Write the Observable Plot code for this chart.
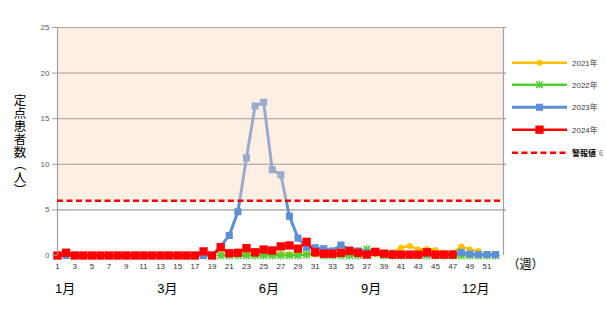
<!DOCTYPE html>
<html><head><meta charset="utf-8">
<script src="https://cdn.jsdelivr.net/npm/d3@7"></script>
<script src="https://cdn.jsdelivr.net/npm/@observablehq/plot@0.6"></script>
<style>
body{margin:0;background:#fff;}
#chart{position:relative;width:606px;height:310px;}
</style>
</head><body><div id="chart"></div>
<script>
// ---- data ----
const weeks = [1,2,3,4,5,6,7,8,9,10,11,12,13,14,15,16,17,18,19,20,21,22,23,24,25,26,27,28,29,30,31,32,33,34,35,36,37,38,39,40,41,42,43,44,45,46,47,48,49,50,51,52];
const weekTicks = [1,3,5,7,9,11,13,15,17,19,21,23,25,27,29,31,33,35,37,39,41,43,45,47,49,51];
const yTicks = [0,5,10,15,20,25];
const gridValues = [5,10,15,20,25];
const monthLabels = ["1月","3月","6月","9月","12月"];
const monthWeeks = [1.9,13.8,25.6,37.5,49.7];
const alarmLevel = 6;
const alarmLabel = "警報値";
const alarmValueLabel = "6";
const yTitle = "定点患者数（人）";
const xUnit = "（週）";

const years = ["2021年","2022年","2023年","2024年"];
const startWeeks = [20,20,1,1];
// 2021: weeks 20-50
const v2021 = [0.1,0.1,0.1,0.1,0.1,0.1,0.15,0.2,0.15,0.1,0.1,0.1,0.1,0.1,0.1,0.1,0.1,0.1,0.1,0.1,0.35,0.85,1.05,0.65,0.7,0.6,0.3,0.3,1.0,0.65,0.5];
// 2022: weeks 20-52
const v2022 = [0,0,0,0,0,0,0,0,0,0,0.1,0.3,0,0,0,0,0,0.7,0.3,0,0,0,0,0,0,0,0,0,0,0,0,0,0];
// 2023: weeks 1-52
const v2023 = [0,0,0,0,0,0,0,0,0,0,0,0,0,0,0,0,0,0,0,1.0,2.2,4.8,10.7,16.4,16.8,9.4,8.85,4.3,1.9,0.9,0.85,0.75,0.5,1.15,0.6,0.5,0.3,0.4,0.2,0.2,0.1,0.1,0.1,0.2,0.1,0.1,0.1,0.35,0.15,0.1,0.1,0.1];
// 2024: weeks 1-47
const v2024 = [0,0.3,0,0,0,0,0,0,0,0,0,0,0,0,0,0,0,0.45,0,0.9,0.25,0.3,0.8,0.35,0.65,0.55,1.0,1.1,0.75,1.5,0.35,0.2,0.2,0.3,0.5,0.3,0.1,0.4,0.2,0.1,0.1,0.1,0.1,0.35,0.1,0.1,0.1];
const seriesValues = [v2021, v2022, v2023, v2024];

// ---- styles ----
const colors = ["#ffc000","#4fce32","#5b8fd8","#ff0000"];
const symbols = ["circle","asterisk","square","square"];
const dotR = [3,3.2,4,4.7];
const lineW = [2.5,2.5,3,2.5];

const xMin = 1, xMax = 52.92;

const data = [];
seriesValues.forEach((vals, i) => {
  const s = startWeeks[i];
  vals.forEach((v, j) => data.push({year: years[i], week: weeks[s - 1 + j], value: v, idx: i}));
});

const marks = [];
marks.push(Plot.ruleY(gridValues, {x1: () => xMin, x2: () => xMax + 0.35, stroke: "#a0a0a0", strokeWidth: 1}));
years.forEach((y, i) => {
  const d = data.filter(r => r.idx === i);
  marks.push(Plot.lineY(d, {x: "week", y: "value", stroke: colors[i], strokeWidth: lineW[i]}));
  if (symbols[i] === "asterisk") {
    marks.push(Plot.dot(d, {x: "week", y: "value", symbol: "times", r: dotR[i], stroke: colors[i], strokeWidth: 1.6}));
    marks.push(Plot.dot(d, {x: "week", y: "value", symbol: "plus", r: dotR[i] * 0.9, stroke: colors[i], strokeWidth: 1.2}));
  } else {
    marks.push(Plot.dot(d, {x: "week", y: "value", symbol: symbols[i], r: dotR[i], fill: colors[i], stroke: "none"}));
  }
});
// translucent peach overlay above the alarm level
marks.push(Plot.rect([alarmLevel], {x1: () => xMin, x2: () => xMax, y1: d => d, y2: () => 25, fill: "#fad6bb", fillOpacity: 0.4}));
marks.push(Plot.ruleY(gridValues, {x1: () => xMin, x2: () => xMax + 0.35, stroke: "#a0a0a0", strokeWidth: 1, strokeOpacity: 0.6}));
marks.push(Plot.ruleX([xMin, xMax], {y1: () => 0, y2: () => 25, stroke: "#a0a0a0", strokeWidth: 1.2}));
marks.push(Plot.ruleY([alarmLevel], {x1: () => xMin, x2: () => xMax, stroke: "#ff0000", strokeWidth: 2.5, strokeDasharray: "6,3.5"}));
marks.push(Plot.axisY({ticks: yTicks, tickSize: 5, tickPadding: 3, fontSize: 8, color: "#595959", stroke: "#a0a0a0", label: null}));
marks.push(Plot.axisX({ticks: weekTicks, tickSize: 0, tickPadding: 8, fontSize: 8, color: "#333", label: null, tickFormat: d => String(d)}));
marks.push(Plot.text(monthLabels, {x: (d, i) => monthWeeks[i], y: () => 0, text: d => d, dy: 33, fontSize: 13, fill: "#000"}));
marks.push(Plot.text([xUnit], {x: () => xMax, y: () => 0, text: d => d, dy: 10, dx: 4, textAnchor: "start", fontSize: 12, fill: "#000"}));

const chart = Plot.plot({
  width: 606, height: 310,
  marginLeft: 57, marginRight: 103, marginTop: 27, marginBottom: 55,
  x: {domain: [xMin, xMax], label: null},
  y: {domain: [0, 25], label: null},
  style: {fontFamily: "'Liberation Sans', 'Noto Sans CJK JP', sans-serif", background: "transparent", overflow: "visible"},
  marks
});
document.getElementById("chart").appendChild(chart);

// ---- y title (vertical writing) and legend ----
const svg = d3.select(chart);
svg.append("text")
  .attr("x", 20).attr("y", 94)
  .attr("text-anchor", "start")
  .attr("font-family", "'Noto Sans CJK JP', sans-serif")
  .attr("font-size", 12.5)
  .attr("fill", "#000")
  .style("writing-mode", "vertical-rl")
  .style("text-orientation", "upright")
  .style("letter-spacing", "0.4px")
  .text(yTitle);

const legY = [62.7, 84.7, 107.3, 129.7];
const lx1 = 512, lx2 = 567;
const g = svg.append("g").attr("text-anchor", "start");
years.forEach((y, i) => {
  g.append("line").attr("x1", lx1).attr("x2", lx2).attr("y1", legY[i]).attr("y2", legY[i])
    .attr("stroke", colors[i]).attr("stroke-width", lineW[i]);
  const mx = (lx1 + lx2) / 2;
  if (symbols[i] === "asterisk") {
    g.append("path").attr("d", d3.symbol(d3.symbolTimes, Math.PI * 9)())
      .attr("transform", `translate(${mx},${legY[i]})`).attr("stroke", colors[i]).attr("stroke-width", 1.6).attr("fill", "none");
    g.append("path").attr("d", d3.symbol(d3.symbolPlus, Math.PI * 7)())
      .attr("transform", `translate(${mx},${legY[i]})`).attr("stroke", colors[i]).attr("stroke-width", 1.2).attr("fill", "none");
  } else {
    const sym = symbols[i] === "circle" ? d3.symbolCircle : d3.symbolSquare;
    g.append("path").attr("d", d3.symbol(sym, Math.PI * dotR[i] * dotR[i])())
      .attr("transform", `translate(${mx},${legY[i]})`).attr("fill", colors[i]);
  }
  g.append("text").attr("x", 572).attr("y", legY[i]).attr("dy", "0.35em")
    .attr("text-anchor", "start")
    .attr("font-size", 8).attr("fill", "#404040")
    .attr("font-family", "'Liberation Sans', 'Noto Sans CJK JP', sans-serif").text(y);
});
g.append("line").attr("x1", lx1).attr("x2", lx2).attr("y1", 152.7).attr("y2", 152.7)
  .attr("stroke", "#ff0000").attr("stroke-width", 2.5).attr("stroke-dasharray", "6,3.5");
const at = g.append("text").attr("x", 572).attr("y", 152.7).attr("dy", "0.35em")
  .attr("text-anchor", "start")
  .attr("font-family", "'Noto Sans CJK JP', sans-serif");
at.append("tspan").attr("font-size", 8).attr("font-weight", "bold").attr("fill", "#000").text(alarmLabel);
at.append("tspan").attr("dx", 3).attr("font-size", 7).attr("fill", "#606060").text(alarmValueLabel);
</script>
</body></html>
